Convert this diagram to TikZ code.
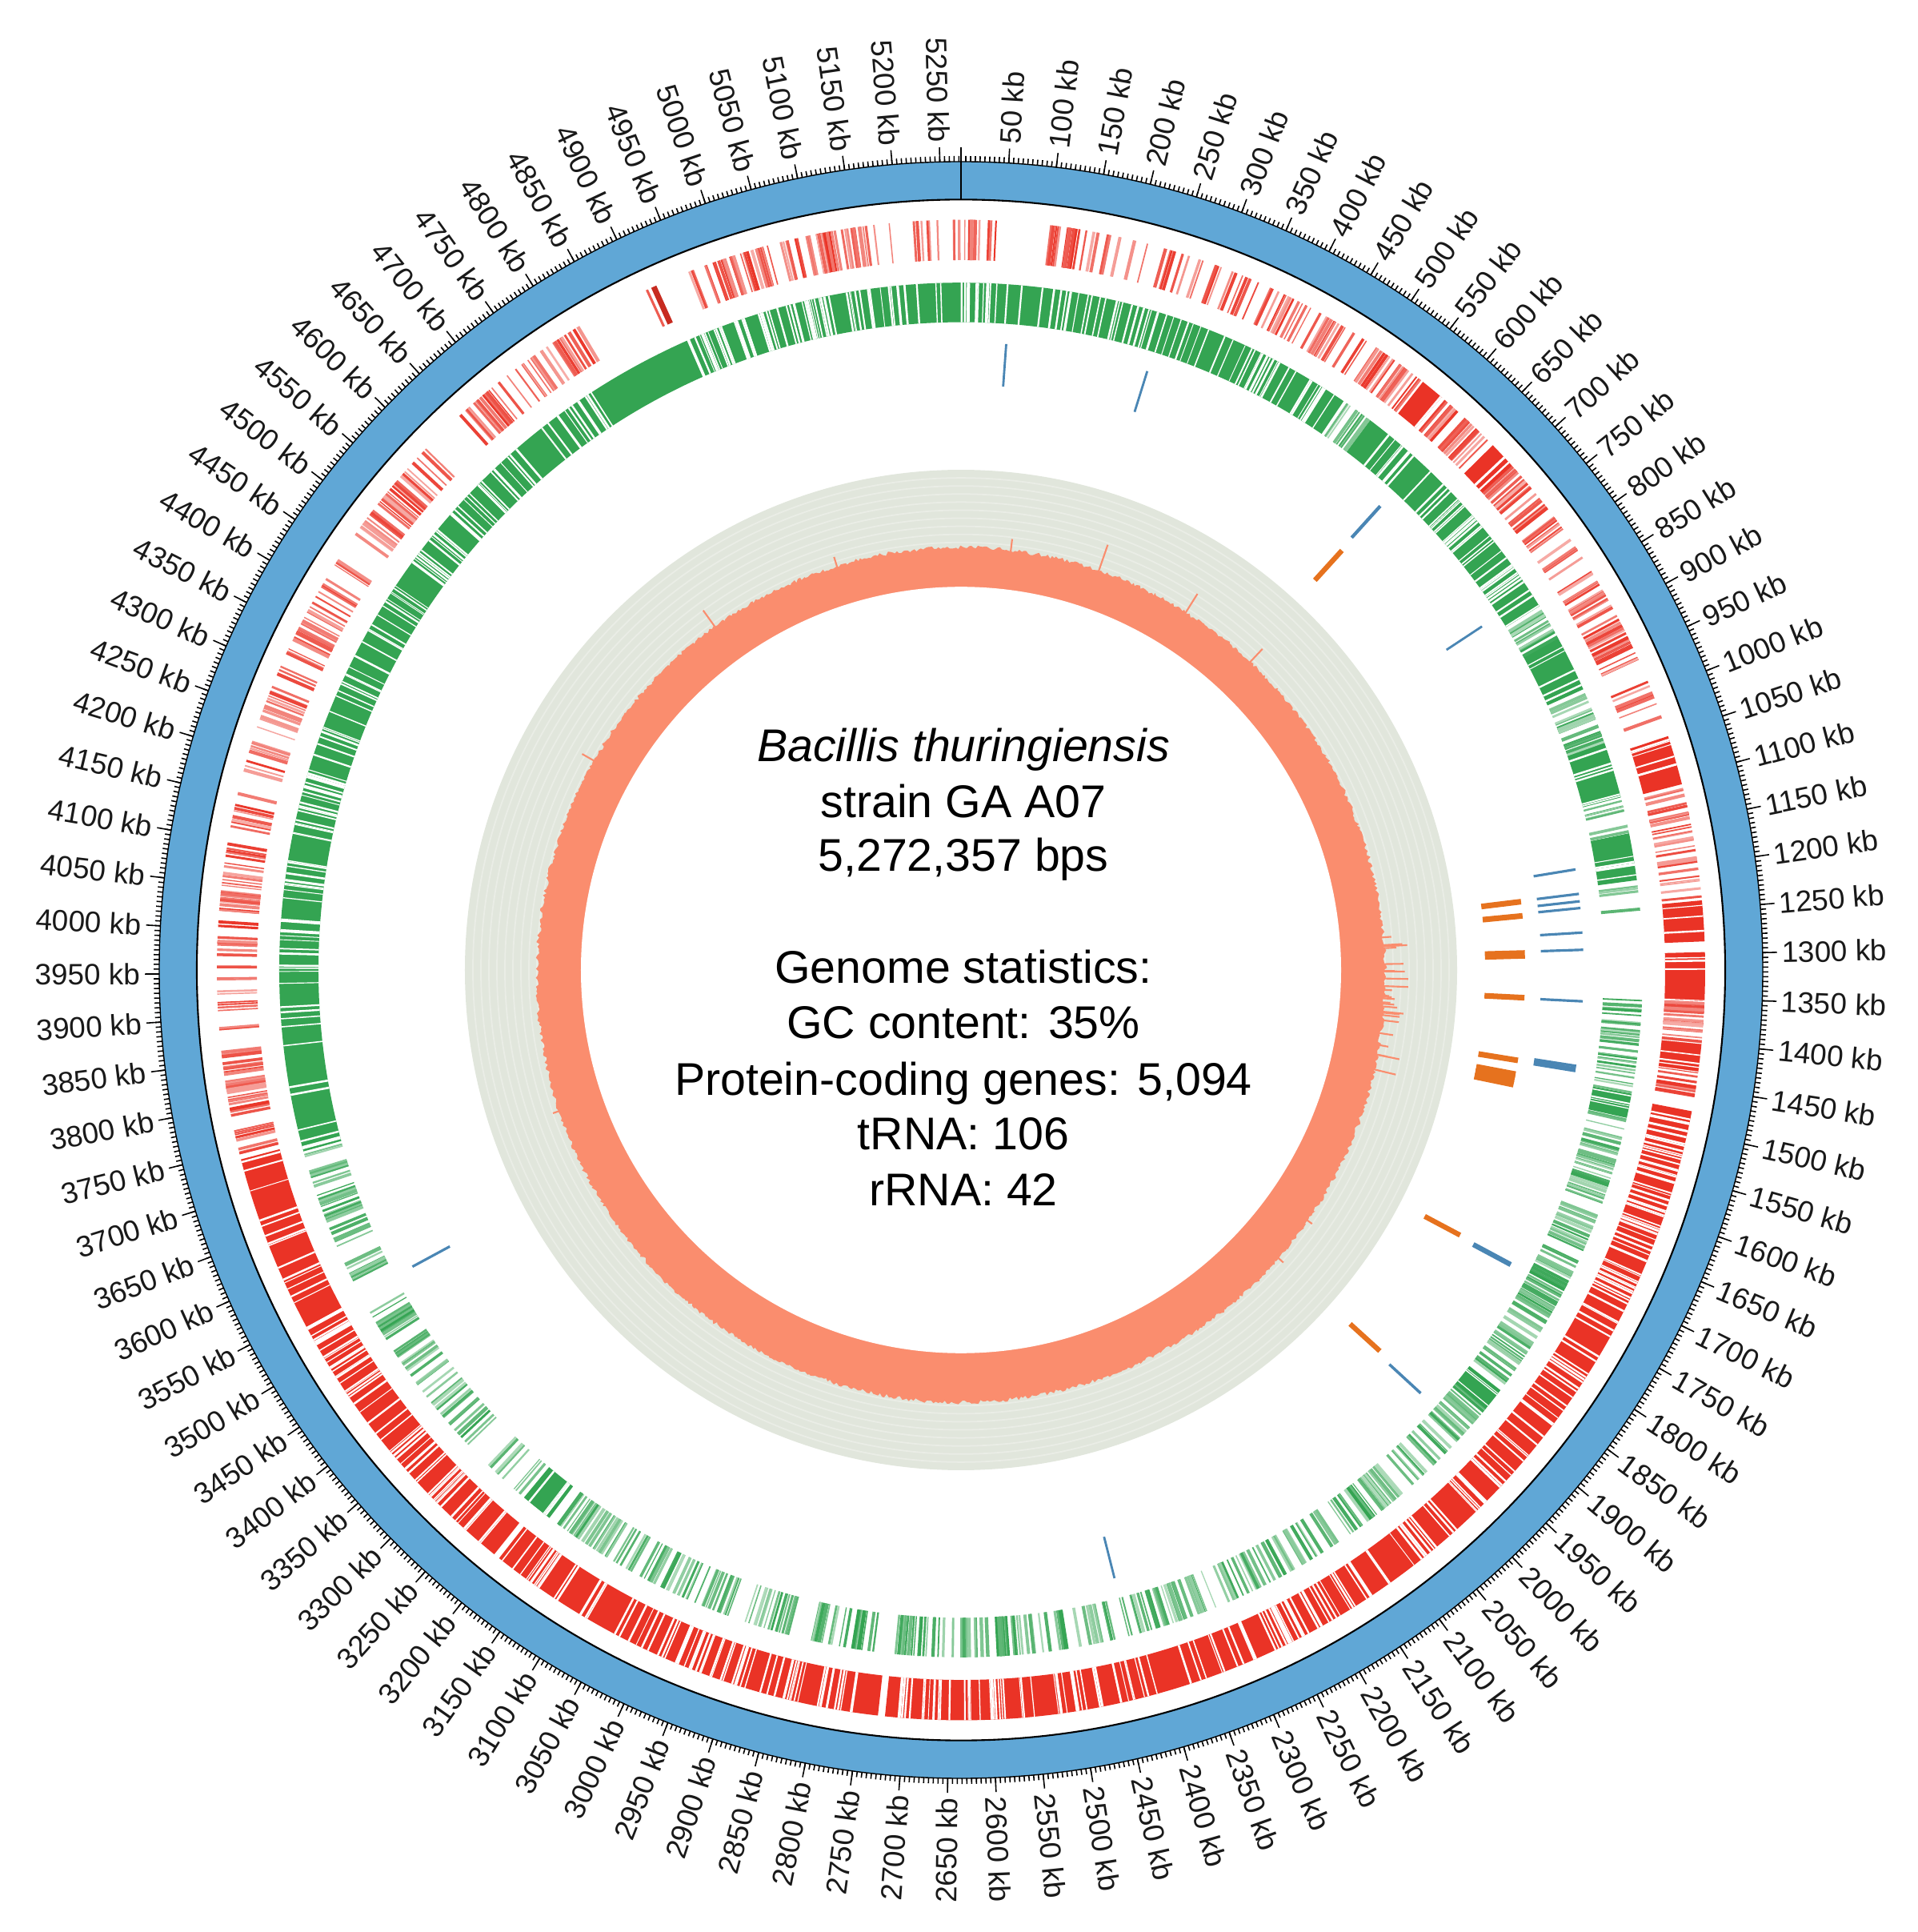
\documentclass[tikz,border=0pt]{standalone}
\usepackage{fontspec}
\setmainfont{Liberation Sans}

\definecolor{anneau}{RGB}{96,167,214}
\definecolor{rouge}{RGB}{234,51,38}
\definecolor{vert}{RGB}{52,164,82}
\definecolor{bleutrna}{RGB}{74,134,180}
\definecolor{orangerrna}{RGB}{230,114,30}
\definecolor{fondgc}{RGB}{225,230,220}
\definecolor{saumon}{RGB}{250,141,110}

\newcommand{\kbdeg}{0.068281}
% secteur plein : couleur, r1, r2, kb1, kb2
\newcommand{\secteur}[5]{%
  \fill[#1] ({90-#4*\kbdeg}:#3) arc[start angle={90-#4*\kbdeg}, end angle={90-#5*\kbdeg}, radius=#3]
    -- ({90-#5*\kbdeg}:#2) arc[start angle={90-#5*\kbdeg}, end angle={90-#4*\kbdeg}, radius=#2] -- cycle ;}
% genes au hasard : couleur, r1, r2, kb1, kb2, nombre
\newcommand{\traits}[6]{%
  \foreach \i in {1,...,#6} {
    \pgfmathsetmacro{\gpos}{90-(#4+rnd*(#5-#4))*\kbdeg}
    \pgfmathsetmacro{\glw}{0.35+0.9*rnd}
    \pgfmathtruncatemacro{\gop}{40+60*rnd}
    \draw[color=#1!\gop!white, line width=\glw pt] (\gpos:#2) -- (\gpos:#3) ;
  }}
% trous blancs dans les blocs : r1, r2, kb1, kb2, nombre
\newcommand{\blancs}[5]{%
  \foreach \i in {1,...,#5} {
    \pgfmathsetmacro{\gpos}{90-(#3+rnd*(#4-#3))*\kbdeg}
    \pgfmathsetmacro{\glw}{0.25+0.5*rnd}
    \draw[white, line width=\glw pt] (\gpos:#1) -- (\gpos:#2) ;
  }}

\begin{document}
\begin{tikzpicture}[
    graduation/.style={black, line width=0.45pt},
    etiquette/.style={inner sep=1pt, text=black!90, font=\fontsize{10.5}{12}\selectfont},
    texte/.style={inner sep=0pt, font=\fontsize{16.3}{19.6}\selectfont}]
  \useasboundingbox (-12.01, -12.02) rectangle (11.95, 12.12) ;
  \pgfmathsetseed{4207}
  \begin{scope}[yscale=1.008]
    %--- Anneau bleu
      \fill[anneau, even odd rule] (0, 0) circle (10.02) (0, 0) circle (9.55) ;
      \draw[black, line width=0.6pt] (0, 0) circle (9.55) ;
      \draw[black, line width=0.4pt] (0, 0) circle (10.02) ;
      \draw[black, line width=0.7pt] (90:9.55) -- (90:10.2) ;
    %--- Graduations
      \draw[graduation] \foreach \k in {0,5,...,5270} {({90-\k*\kbdeg}:10.02) -- ({90-\k*\kbdeg}:10.09)} ;
      \draw[graduation] \foreach \k in {50,100,...,5250} {({90-\k*\kbdeg}:10.02) -- ({90-\k*\kbdeg}:10.2)} ;
      \foreach \k in {50,100,...,5250} {
        \pgfmathsetmacro{\ang}{90-\k*\kbdeg}
        \pgfmathsetmacro{\angb}{\ang+180}
        \ifnum\k<2637
          \node[etiquette, anchor=west, rotate=\ang] (kb\k) at (\ang:10.22) {\k\ kb} ;
        \else
          \node[etiquette, anchor=east, rotate=\angb] (kb\k) at (\ang:10.22) {\k\ kb} ;
        \fi
      }
    %--- Genes brin direct (rouge)
      \foreach \a/\b in {120/134, 562/590, 668/700, 1052/1108, 1240/1286, 1298/1353, 1400/1434,
          1477/2722, 2730/3198, 3205/3740, 5108/5124}
        {\secteur{rouge}{8.8}{9.3}{\a}{\b}}
      \foreach \a/\b/\n in {120/134/2, 562/590/3, 668/700/4, 1052/1108/6, 1240/1286/3, 1298/1353/4,
          1400/1434/6, 1477/1750/60, 1750/2100/50, 2100/2400/45, 2400/2722/45, 2585/2600/8,
          2730/3198/70, 3205/3560/60, 3560/3740/14, 5108/5124/2}
        {\blancs{8.8}{9.3}{\a}{\b}{\n}}
      \foreach \a/\b/\n in {0/45/10, 5215/5272/10, 100/150/14, 150/215/9, 230/320/16, 320/360/5,
          360/450/22, 450/500/8, 500/560/24, 590/665/22, 700/830/36, 835/870/5, 870/960/40,
          975/1045/7, 1110/1180/22, 1180/1236/14, 1355/1400/24, 1434/1465/9, 3740/3780/10,
          3785/3950/40, 3955/3960/1, 3965/4100/35, 4110/4160/8, 4165/4235/10, 4240/4310/14,
          4320/4420/28, 4425/4440/3, 4470/4570/30, 4575/4600/4, 4650/4820/40, 4903/4908/1,
          4958/5100/45, 5100/5180/25, 5188/5192/1}
        {\traits{rouge}{8.8}{9.3}{\a}{\b}{\n}}
      \draw[rouge!85!black, line width=2pt] ({90-4915*\kbdeg}:8.8) -- ({90-4915*\kbdeg}:9.3) ;
    %--- Genes brin complementaire (vert)
      \foreach \a/\b in {3730/4790, 4792/4925, 4929/5272.4, 0/130, 132/500, 540/850, 895/965,
          1035/1105, 1150/1208, 1470/1500, 1870/1900, 3180/3220, 1718/1726, 2088/2097,
          2580/2592, 2760/2772}
        {\secteur{vert}{8.03}{8.52}{\a}{\b}}
      \foreach \a/\b/\n in {3730/4560/100, 4560/4790/35, 4929/5100/45, 5100/5272/25, 0/130/18,
          132/500/50, 540/850/45, 895/965/6, 1035/1105/6, 1150/1208/5, 1470/1500/4,
          1870/1900/3, 3180/3220/4}
        {\blancs{8.03}{8.52}{\a}{\b}{\n}}
      \foreach \a/\b/\n in {500/540/14, 850/895/16, 965/1035/22, 1105/1150/8, 1212/1248/4,
          1353/1440/22, 1440/1470/6, 1500/1600/32, 1600/1700/26, 1700/1790/32, 1790/1870/22,
          1900/2000/26, 2000/2100/24, 2100/2200/18, 2200/2350/35, 2350/2500/30, 2500/2640/34,
          2640/2900/50, 2900/3100/42, 3100/3170/26, 3225/3520/60, 3560/3690/32, 3690/3730/8}
        {\traits{vert}{8.03}{8.52}{\a}{\b}{\n}}
    %--- tRNA
      \foreach \k/\w in {61/0.8, 255/0.8, 620/1.2, 832/0.8, 1183/0.9, 1216/0.9, 1226/0.9,
          1235/0.9, 1268/0.9, 1291/0.9, 1360/0.9, 1447/1.0, 1452/1.8, 1728/1.8, 1939/1.0,
          2427/0.8, 3541/0.9}
        {\draw[bleutrna, line width=\w pt] ({90-\k*\kbdeg}:7.25) -- ({90-\k*\kbdeg}:7.78) ;}
    %--- rRNA
      \foreach \k/\w in {622/1.8, 1217/2, 1238/2, 1295/3, 1359/2, 1452/2, 1473/2.2, 1480/2.2,
          1488/2.2, 1725/1.8, 1934/1.8}
        {\draw[orangerrna, line width=\w pt] ({90-\k*\kbdeg}:6.55) -- ({90-\k*\kbdeg}:7.05) ;}
    %--- Contenu GC
      \fill[fondgc] (0, 0) circle (6.2) ;
      \foreach \r in {4.9,5.0,...,6.15}
        {\draw[white, opacity=0.3, line width=0.5pt] (0, 0) circle (\r) ;}
      \fill[saumon] plot[domain=0:360, samples=1200, variable=\t] (\t:{5.3-0.06*sin(\t)+0.05*(rnd-0.5)}) -- cycle ;
      \foreach \k/\h in {281/0.28, 474/0.22, 636/0.18, 4747/0.2, 4386/0.14, 3673/0.1,
          1933/0.12, 1840/0.1, 100/0.08, 5020/0.06}
        {\draw[saumon, line width=0.6pt] ({90-\k*\kbdeg}:5.2) -- ({90-\k*\kbdeg}:{5.3+\h}) ;}
      \foreach \i in {1,...,25} {
        \pgfmathsetmacro{\gpos}{90-(1250+rnd*270)*\kbdeg}
        \pgfmathsetmacro{\gh}{5.35+0.25*rnd}
        \draw[saumon, line width=0.6pt] (\gpos:5.2) -- (\gpos:\gh) ;
      }
      \fill[white] (0, 0) circle (4.75) ;
  \end{scope}
  %--- Texte central
  \node[texte, anchor=base] (espece) at (0.03, 2.60) {\itshape Bacillis thuringiensis} ;
  \node[texte, anchor=base] (souche) at (0.03, 1.90) {strain GA A07} ;
  \node[texte, anchor=base] (taille) at (0.03, 1.23) {5,272,357 bps} ;
  \node[texte, anchor=base] (stats) at (0.03, -0.17) {Genome statistics:} ;
  \node[texte, anchor=base] (gc) at (0.03, -0.86) {GC content: 35\%} ;
  \node[texte, anchor=base] (cds) at (0.03, -1.57) {Protein-coding genes: 5,094} ;
  \node[texte, anchor=base] (trna) at (0.03, -2.25) {tRNA: 106} ;
  \node[texte, anchor=base] (rrna) at (0.03, -2.94) {rRNA: 42} ;
\end{tikzpicture}
\end{document}
